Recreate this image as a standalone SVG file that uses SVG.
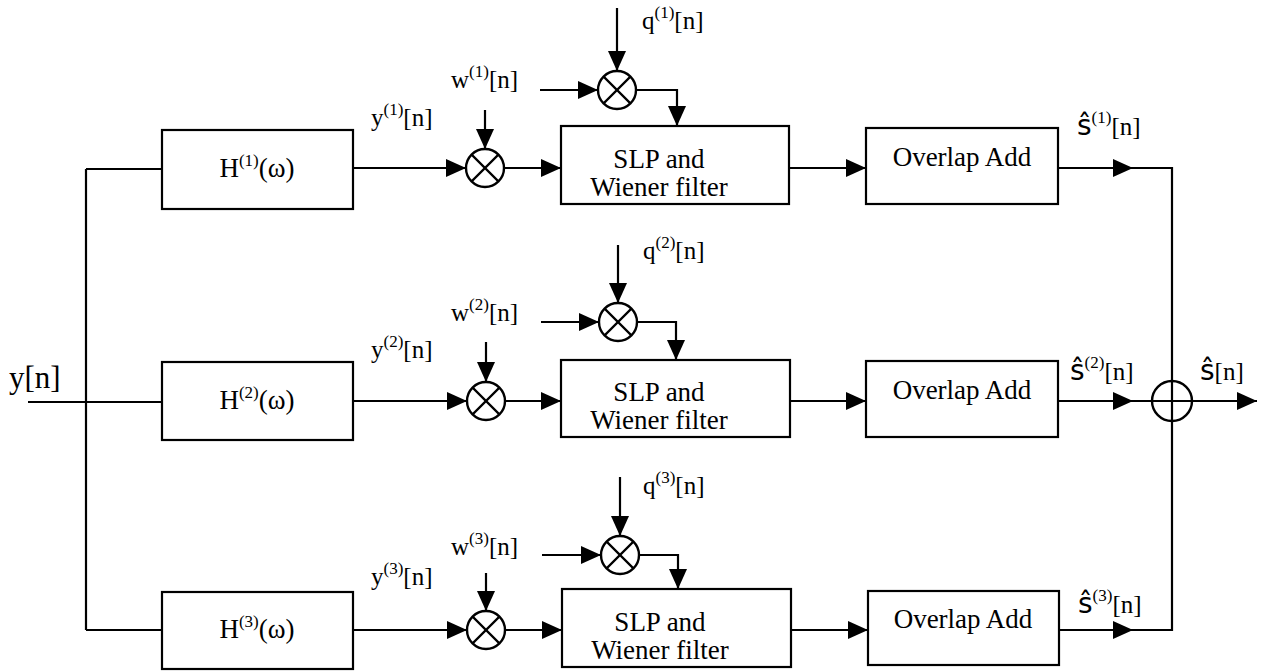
<svg xmlns="http://www.w3.org/2000/svg" width="1274" height="671" viewBox="0 0 1274 671">
<style>
.box{fill:#fff;stroke:#000;stroke-width:2.2}
.ln{fill:none;stroke:#000;stroke-width:2.2}
.mul{fill:#fff;stroke:#000;stroke-width:2.4}
.t{font-family:"Liberation Serif","Times New Roman",serif;fill:#000}
.bt{font-size:27px}
.lb{font-size:25px}
.sup{font-size:17px}
.hat{font-family:"DejaVu Sans",sans-serif;font-size:28px}
</style>
<defs>
<marker id="ah" viewBox="0 0 20 18" refX="20" refY="9" markerWidth="20" markerHeight="18" markerUnits="userSpaceOnUse" orient="auto">
<path d="M0,0 L20,9 L0,18 z" fill="#000"/>
</marker>
<g id="x">
<circle r="19" class="mul"/>
<path d="M-13.4,-13.4 L13.4,13.4 M-13.4,13.4 L13.4,-13.4" class="ln"/>
</g>
</defs>
<rect width="1274" height="671" fill="#fff"/>

<g id="connectors">
<path class="ln" d="M28,402 L162,402"/>
<path class="ln" d="M86,169 L86,630"/>
<path class="ln" d="M86,169 L162,169"/>
<path class="ln" d="M86,630 L162,630"/>
<path class="ln" marker-end="url(#ah)" d="M353,168 L466,168"/>
<path class="ln" marker-end="url(#ah)" d="M504,168 L561,168"/>
<path class="ln" marker-end="url(#ah)" d="M485,110 L485,149"/>
<path class="ln" marker-end="url(#ah)" d="M617,8 L617,71"/>
<path class="ln" marker-end="url(#ah)" d="M540,90 L598,90"/>
<path class="ln" marker-end="url(#ah)" d="M636,90 L677,90 L677,126"/>
<path class="ln" marker-end="url(#ah)" d="M789,168 L866,168"/>
<path class="ln" marker-end="url(#ah)" d="M1058,168 L1133,168"/>
<path class="ln" d="M1133,168 L1172,168 L1172,630 L1133,630"/>
<path class="ln" marker-end="url(#ah)" d="M353,401 L467,401"/>
<path class="ln" marker-end="url(#ah)" d="M505,401 L561,401"/>
<path class="ln" marker-end="url(#ah)" d="M486,342 L486,382"/>
<path class="ln" marker-end="url(#ah)" d="M618,245 L618,303"/>
<path class="ln" marker-end="url(#ah)" d="M541,322 L599,322"/>
<path class="ln" marker-end="url(#ah)" d="M637,322 L676,322 L676,360"/>
<path class="ln" marker-end="url(#ah)" d="M790,401 L866,401"/>
<path class="ln" marker-end="url(#ah)" d="M1058,401 L1133,401"/>
<path class="ln" marker-end="url(#ah)" d="M1133,401 L1257,401"/>
<path class="ln" marker-end="url(#ah)" d="M353,630 L467,630"/>
<path class="ln" marker-end="url(#ah)" d="M505,630 L562,630"/>
<path class="ln" marker-end="url(#ah)" d="M486,573 L486,611"/>
<path class="ln" marker-end="url(#ah)" d="M620,477 L620,536"/>
<path class="ln" marker-end="url(#ah)" d="M542,555 L601,555"/>
<path class="ln" marker-end="url(#ah)" d="M639,555 L678,555 L678,589"/>
<path class="ln" marker-end="url(#ah)" d="M791,630 L868,630"/>
<path class="ln" marker-end="url(#ah)" d="M1059,630 L1133,630"/>
</g>

<g id="h1"><rect class="box" x="162" y="130" width="191" height="79"/>
<text class="t bt" x="257" y="177" text-anchor="middle">H<tspan class="sup" dy="-11">(1)</tspan><tspan dy="11">(ω)</tspan></text></g>
<g id="h2"><rect class="box" x="162" y="362" width="191" height="78"/>
<text class="t bt" x="257" y="409" text-anchor="middle">H<tspan class="sup" dy="-11">(2)</tspan><tspan dy="11">(ω)</tspan></text></g>
<g id="h3"><rect class="box" x="162" y="592" width="191" height="77"/>
<text class="t bt" x="257" y="638" text-anchor="middle">H<tspan class="sup" dy="-11">(3)</tspan><tspan dy="11">(ω)</tspan></text></g>

<g id="slp1"><rect class="box" x="561" y="126" width="228" height="78"/>
<text class="t bt" x="659" y="168" text-anchor="middle">SLP and</text>
<text class="t bt" x="659" y="196" text-anchor="middle">Wiener filter</text></g>
<g id="slp2"><rect class="box" x="561" y="360" width="229" height="77"/>
<text class="t bt" x="659" y="401" text-anchor="middle">SLP and</text>
<text class="t bt" x="659" y="429" text-anchor="middle">Wiener filter</text></g>
<g id="slp3"><rect class="box" x="562" y="589" width="229" height="78"/>
<text class="t bt" x="660" y="631" text-anchor="middle">SLP and</text>
<text class="t bt" x="660" y="659" text-anchor="middle">Wiener filter</text></g>

<g id="oa1"><rect class="box" x="866" y="128" width="192" height="76"/>
<text class="t bt" x="962" y="166" text-anchor="middle">Overlap Add</text></g>
<g id="oa2"><rect class="box" x="866" y="361" width="192" height="76"/>
<text class="t bt" x="962" y="399" text-anchor="middle">Overlap Add</text></g>
<g id="oa3"><rect class="box" x="868" y="591" width="191" height="74"/>
<text class="t bt" x="963" y="628" text-anchor="middle">Overlap Add</text></g>

<g id="mw1"><use href="#x" x="485" y="168"/></g>
<g id="mq1"><use href="#x" x="617" y="90"/></g>
<g id="mw2"><use href="#x" x="486" y="401"/></g>
<g id="mq2"><use href="#x" x="618" y="322"/></g>
<g id="mw3"><use href="#x" x="486" y="630"/></g>
<g id="mq3"><use href="#x" x="620" y="555"/></g>

<g id="sum"><circle cx="1172" cy="401" r="20" class="mul"/>
<path class="ln" d="M1152,401 L1192,401 M1172,381 L1172,421"/></g>

<g id="labels">
<text class="t" x="9" y="388" font-size="31">y[n]</text>
<text class="t lb" x="371" y="126">y<tspan class="sup" dy="-11">(1)</tspan><tspan dy="11">[n]</tspan></text>
<text class="t lb" x="371" y="358">y<tspan class="sup" dy="-11">(2)</tspan><tspan dy="11">[n]</tspan></text>
<text class="t lb" x="371" y="585">y<tspan class="sup" dy="-11">(3)</tspan><tspan dy="11">[n]</tspan></text>
<text class="t lb" x="451" y="88">w<tspan class="sup" dy="-11">(1)</tspan><tspan dy="11">[n]</tspan></text>
<text class="t lb" x="451" y="321">w<tspan class="sup" dy="-11">(2)</tspan><tspan dy="11">[n]</tspan></text>
<text class="t lb" x="451" y="555">w<tspan class="sup" dy="-11">(3)</tspan><tspan dy="11">[n]</tspan></text>
<text class="t lb" x="642" y="29">q<tspan class="sup" dy="-11">(1)</tspan><tspan dy="11">[n]</tspan></text>
<text class="t lb" x="643" y="259">q<tspan class="sup" dy="-11">(2)</tspan><tspan dy="11">[n]</tspan></text>
<text class="t lb" x="643" y="494">q<tspan class="sup" dy="-11">(3)</tspan><tspan dy="11">[n]</tspan></text>
<text class="t lb" x="1077" y="135"><tspan class="hat">ŝ</tspan><tspan class="sup" dy="-12">(1)</tspan><tspan dy="12">[n]</tspan></text>
<text class="t lb" x="1070" y="380"><tspan class="hat">ŝ</tspan><tspan class="sup" dy="-12">(2)</tspan><tspan dy="12">[n]</tspan></text>
<text class="t lb" x="1078" y="613"><tspan class="hat">ŝ</tspan><tspan class="sup" dy="-12">(3)</tspan><tspan dy="12">[n]</tspan></text>
<text class="t lb" x="1200" y="380"><tspan class="hat">ŝ</tspan>[n]</text>
</g>
</svg>
